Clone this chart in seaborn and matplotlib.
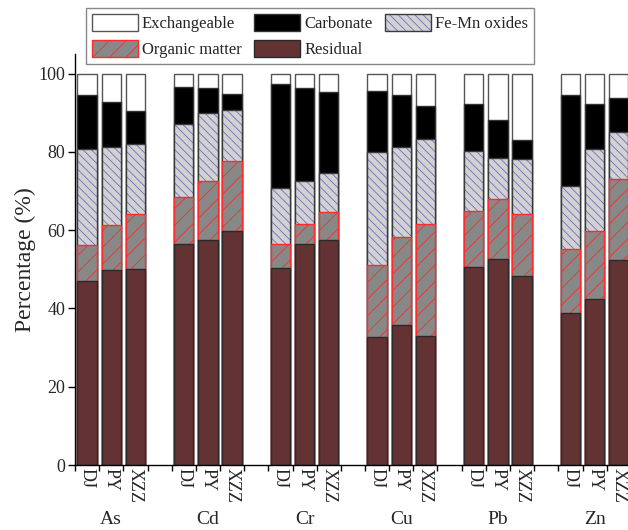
import numpy as np
import pandas as pd
import matplotlib
matplotlib.use("Agg")
import matplotlib.pyplot as plt
import seaborn as sns
from matplotlib.patches import Patch

elements = ["As", "Cd", "Cr", "Cu", "Pb", "Zn"]
sites = ["DJ", "PY", "XZZ"]

# fractions (%) per element x site, ordered As(DJ,PY,XZZ), Cd(...), ...
residual = [46.9, 49.7, 50.1, 56.4, 57.5, 59.7, 50.3, 56.4, 57.6,
            32.7, 35.7, 33.0, 50.6, 52.7, 48.4, 38.8, 42.5, 52.4]
organic = [9.4, 11.6, 14.1, 12.1, 15.0, 17.9, 6.1, 5.2, 7.1,
           18.4, 22.5, 28.6, 14.4, 15.2, 15.7, 16.4, 17.3, 20.7]
femn = [24.5, 19.9, 17.8, 18.6, 17.3, 13.1, 14.4, 11.0, 9.9,
        28.8, 23.0, 21.7, 15.2, 10.5, 14.2, 16.2, 20.9, 11.9]
carbonate = [13.6, 11.5, 8.5, 9.4, 6.5, 4.1, 26.6, 23.8, 20.6,
             15.6, 13.3, 8.5, 11.9, 9.7, 4.8, 23.0, 11.6, 8.7]
exchangeable = [5.6, 7.3, 9.5, 3.5, 3.7, 5.2, 2.6, 3.6, 4.8,
                4.5, 5.5, 8.2, 7.9, 11.9, 16.9, 5.6, 7.7, 6.3]

fractions = ["Residual", "Organic matter", "Fe-Mn oxides", "Carbonate", "Exchangeable"]

sns.set_style("ticks")
plt.rcParams["font.family"] = ["Liberation Serif", "DejaVu Serif"]
plt.rcParams["hatch.linewidth"] = 0.6

rows = []
for gi, el in enumerate(elements):
    for si, st in enumerate(sites):
        rows.append(dict(element=el, site=st, pos=gi * 4 + si))
df = pd.DataFrame(rows)
df["Residual"] = residual
df["Organic matter"] = organic
df["Fe-Mn oxides"] = femn
df["Carbonate"] = carbonate
df["Exchangeable"] = exchangeable
cum = np.cumsum(df[fractions].values, axis=1)
for i, f in enumerate(fractions):
    df["top_" + f] = cum[:, i]

FEMN_HATCH = "\\\\\\\\"
ORG_HATCH = "//"

styles = {
    "Exchangeable": dict(color="white", edgecolor="#555555", hatch=None, lw=1.0),
    "Carbonate": dict(color="black", edgecolor="#333333", hatch=None, lw=1.0),
    "Fe-Mn oxides": dict(color="#d2d2d2", edgecolor="#6e6ec8", hatch=FEMN_HATCH, lw=0.0),
    "Organic matter": dict(color="#888888", edgecolor="#ff2a2a", hatch=ORG_HATCH, lw=1.0),
    "Residual": dict(color="#633333", edgecolor="#2a2a2a", hatch=None, lw=1.0),
}

fig = plt.figure(figsize=(6.28, 5.30), dpi=100)
ax = fig.add_axes([75 / 628, 65 / 530, 580 / 628, 411 / 530])

for f in reversed(fractions):
    s = styles[f]
    kws = dict(data=df, x="pos", y="top_" + f, native_scale=True, width=0.8,
               color=s["color"], edgecolor=s["edgecolor"], linewidth=s["lw"],
               saturation=1, errorbar=None, ax=ax)
    if s["hatch"]:
        kws["hatch"] = s["hatch"]
    sns.barplot(**kws)
    if f == "Fe-Mn oxides":
        sns.barplot(data=df, x="pos", y="top_" + f, native_scale=True, width=0.8,
                    fill=False, color="#3a3a3a", linewidth=1.0, errorbar=None, ax=ax)

ax.set_xlim(-0.5, 23.5)
ax.set_ylim(0, 105)
ax.set_yticks(range(0, 101, 20))
ax.set_xticks(df["pos"], labels=df["site"], rotation=-90, va="top", ha="center")
ax.set_xticks(np.arange(-0.5, 24, 1.0), minor=True)
ax.tick_params(axis="x", which="major", length=0, pad=2, labelsize=13)
ax.tick_params(axis="x", which="minor", length=4, width=1, direction="out", color="black")
ax.tick_params(axis="y", which="major", length=5, width=1, direction="out", pad=2,
               labelsize=13, color="black")
ax.set_xlabel("")
ax.set_ylabel("Percentage (%)", fontsize=17, labelpad=2)
for side in ["top", "right"]:
    ax.spines[side].set_visible(False)
for side in ["left", "bottom"]:
    ax.spines[side].set_color("black")
    ax.spines[side].set_linewidth(1.0)

for gi, el in enumerate(elements):
    ax.annotate(el, xy=(gi * 4 + 1, 0), xycoords=("data", "axes fraction"),
                xytext=(0, -33), textcoords="offset points", ha="center", va="top",
                fontsize=14, annotation_clip=False)

h_exch = Patch(facecolor="white", edgecolor="#555555", lw=1)
h_carb = Patch(facecolor="black", edgecolor="#333333", lw=1)
h_femn = (Patch(facecolor="#d2d2d2", edgecolor="#6e6ec8", hatch=FEMN_HATCH, lw=0),
          Patch(facecolor="none", edgecolor="#3a3a3a", lw=1))
h_org = Patch(facecolor="#888888", edgecolor="#ff2a2a", hatch=ORG_HATCH, lw=1)
h_res = Patch(facecolor="#633333", edgecolor="#2a2a2a", lw=1)

leg = fig.legend([h_exch, h_org, h_carb, h_res, h_femn],
                 ["Exchangeable", "Organic matter", "Carbonate", "Residual", "Fe-Mn oxides"],
                 ncol=3, loc="upper left", bbox_to_anchor=(86 / 628, 1 - 8 / 530),
                 fontsize=12, handlelength=2.75, handleheight=1.2, handletextpad=0.25,
                 columnspacing=0.75, labelspacing=0.45, borderpad=0.35,
                 borderaxespad=0, fancybox=False, framealpha=1, edgecolor="#888888")
leg.get_frame().set_linewidth(1.0)

fig.savefig("out.png", dpi=100)
